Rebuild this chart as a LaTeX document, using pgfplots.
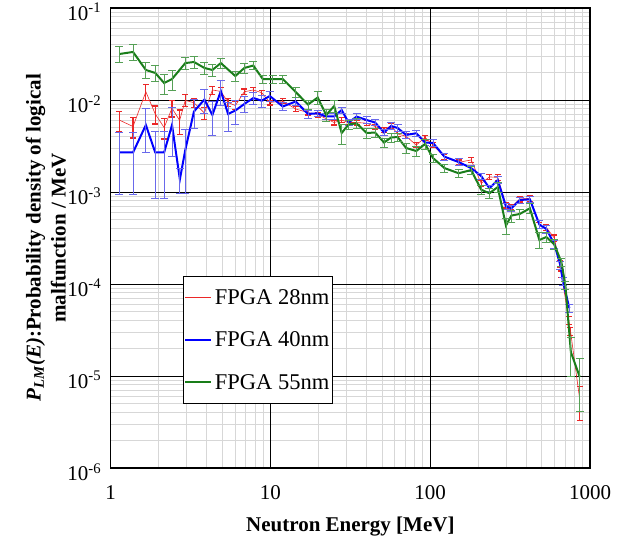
\documentclass[border=0pt]{standalone}
\usepackage{fontspec}
\setmainfont{Liberation Serif}
\usepackage{pgfplots}
\usepackage{pgfplotstable}
\pgfplotsset{compat=1.18}
\definecolor{myred}{RGB}{235,40,40}
\definecolor{myblue}{RGB}{0,0,255}
\definecolor{mybluebar}{RGB}{105,105,235}
\definecolor{mygreen}{RGB}{25,125,25}
\definecolor{mygreenbar}{RGB}{85,160,85}
\definecolor{mygrid}{RGB}{215,215,215}

\pgfplotstableread{
E y r
1.13 6.06e-3 0.25
1.38 5.15e-3 0.25
1.66 1.23e-2 0.2
1.90 7.05e-3 0.22
2.16 5.02e-3 0.25
2.42 8.15e-3 0.2
2.70 6.0e-3 0.3
2.93 9.9e-3 0.15
3.32 9.35e-3 0.12
3.86 7.22e-3 0.15
4.33 1.285e-2 0.1
4.89 1.24e-2 0.1
5.43 9.4e-3 0.1
6.03 8.7e-3 0.1
6.86 1.23e-2 0.07
7.81 1.285e-2 0.07
8.82 1.2e-2 0.06
9.9 9.4e-3 0.06
11.94 9.75e-3 0.06
14.39 7.98e-3 0.06
17.18 7.31e-3 0.06
19.75 6.96e-3 0.06
22.33 6.26e-3 0.06
25.05 5.69e-3 0.06
27.9 6.06e-3 0.06
30.85 5.69e-3 0.06
34.6 5.69e-3 0.06
40.0 5.6e-3 0.06
45.2 5.15e-3 0.06
51.4 4.72e-3 0.06
56.9 5.28e-3 0.06
62.5 4.27e-3 0.06
70.6 4.04e-3 0.06
81.8 3.24e-3 0.06
92.8 3.91e-3 0.06
104.1 3.24e-3 0.06
122.8 2.4e-3 0.06
150.3 2.1e-3 0.06
180.4 2.23e-3 0.06
208.4 1.243e-3 0.07
234.8 1.46e-3 0.07
264.5 1.44e-3 0.07
297.8 7.22e-4 0.07
322.3 6.87e-4 0.07
363.1 8.39e-4 0.07
420.5 8.54e-4 0.07
482 4.32e-4 0.07
533 4.11e-4 0.07
598 3.16e-4 0.08
647 1.65e-4 0.08
662 1.285e-4 0.08
737 4.06e-5 0.1
755 3.08e-5 0.1
863 5.5e-6 0.4
}\redtab

\pgfplotstableread{
E y r
1.13 2.69e-3 0.65
1.38 2.69e-3 0.65
1.66 5.35e-3 0.5
1.90 2.69e-3 0.68
2.16 2.69e-3 0.68
2.42 5.35e-3 0.55
2.71 1.37e-3 0.3
2.93 2.86e-3 0.66
3.32 7.5e-3 0.35
3.86 1.012e-2 0.3
4.33 6.87e-3 0.4
4.89 1.25e-2 0.3
5.43 7.05e-3 0.35
6.03 7.69e-3 0.3
6.86 9.05e-3 0.2
7.81 1.051e-2 0.15
8.82 9.83e-3 0.15
9.9 1.105e-2 0.12
11.94 8.5e-3 0.1
14.39 9.63e-3 0.1
17.18 7.05e-3 0.1
19.75 7.17e-3 0.08
22.33 6.62e-3 0.08
25.05 6.62e-3 0.08
27.9 7.78e-3 0.08
30.85 5.69e-3 0.08
34.6 6.6e-3 0.08
40.0 6.06e-3 0.08
45.2 5.69e-3 0.08
51.4 4.43e-3 0.08
56.9 5.22e-3 0.08
62.5 4.96e-3 0.08
70.6 4.17e-3 0.08
81.8 4.35e-3 0.08
92.8 3.45e-3 0.08
104.1 3.41e-3 0.08
122.8 2.42e-3 0.08
150.3 2.12e-3 0.08
180.4 1.82e-3 0.08
208.4 1.49e-3 0.08
234.8 1.097e-3 0.08
264.5 1.35e-3 0.08
297.8 6.96e-4 0.08
322.3 6.65e-4 0.08
363.1 8.18e-4 0.08
420.5 8.33e-4 0.08
482 4.43e-4 0.1
533 3.96e-4 0.1
598 2.72e-4 0.1
652 1.61e-4 0.1
676 1.08e-4 0.1
742 5.48e-5 0.1
}\bluetab

\pgfplotstableread{
E y r
1.13 3.16e-2 0.2
1.38 3.33e-2 0.2
1.66 2.12e-2 0.2
1.90 1.97e-2 0.2
2.16 1.53e-2 0.25
2.42 1.69e-2 0.25
2.93 2.52e-2 0.15
3.32 2.59e-2 0.15
3.86 2.23e-2 0.15
4.33 2.12e-2 0.15
4.89 2.52e-2 0.12
6.03 1.82e-2 0.12
6.86 2.23e-2 0.12
7.81 2.37e-2 0.1
8.95 1.69e-2 0.1
10.33 1.69e-2 0.1
11.94 1.69e-2 0.1
14.39 1.22e-2 0.12
17.18 8.93e-3 0.12
19.75 1.064e-2 0.15
22.33 6.87e-3 0.15
25.05 8.6e-3 0.15
27.9 4.38e-3 0.25
30.85 5.42e-3 0.12
34.6 5.58e-3 0.12
40.0 4.38e-3 0.12
45.2 4.43e-3 0.12
51.4 3.45e-3 0.12
56.9 3.91e-3 0.12
62.5 3.96e-3 0.1
70.6 3.01e-3 0.12
81.8 2.79e-3 0.12
92.8 3.33e-3 0.12
104.1 2.34e-3 0.1
122.8 1.82e-3 0.1
150.3 1.6e-3 0.1
180.4 1.73e-3 0.1
208.4 1.06e-3 0.12
234.8 9.68e-4 0.12
264.5 1.133e-3 0.12
297.8 4.32e-4 0.2
322.3 5.55e-4 0.15
363.1 5.77e-4 0.12
420.5 6.65e-4 0.12
482 3.01e-4 0.2
533 3.24e-4 0.12
598 2.69e-4 0.12
662 1.73e-4 0.1
701 9.75e-5 0.1
759 1.82e-5 0.45
863 9.75e-6 0.58
}\greentab

\begin{document}
\begin{tikzpicture}
\begin{axis}[
  scale only axis, width=479.3pt, height=460pt,
  xmode=log, ymode=log,
  xmin=1, xmax=1000, ymin=1e-6, ymax=1e-1,
  xtick={1,10,100,1000}, xticklabels={1,10,100,1000},
  ytick={1e-6,1e-5,1e-4,1e-3,1e-2,1e-1},
  yticklabels={10\textsuperscript{-6},10\textsuperscript{-5},10\textsuperscript{-4},10\textsuperscript{-3},10\textsuperscript{-2},10\textsuperscript{-1}},
  minor xtick={2,3,4,5,6,7,8,9,20,30,40,50,60,70,80,90,200,300,400,500,600,700,800,900},
  minor ytick={2e-6,3e-6,4e-6,5e-6,6e-6,7e-6,8e-6,9e-6,2e-5,3e-5,4e-5,5e-5,6e-5,7e-5,8e-5,9e-5,2e-4,3e-4,4e-4,5e-4,6e-4,7e-4,8e-4,9e-4,2e-3,3e-3,4e-3,5e-3,6e-3,7e-3,8e-3,9e-3,2e-2,3e-2,4e-2,5e-2,6e-2,7e-2,8e-2,9e-2},
  xminorgrids=true, yminorgrids=true, xmajorgrids=false, ymajorgrids=false,
  minor grid style={mygrid, line width=0.9pt},
  extra x ticks={10,100}, extra x tick labels={},
  extra y ticks={1e-5,1e-4,1e-3,1e-2}, extra y tick labels={},
  extra tick style={grid=major, major grid style={black, line width=0.9pt}},
  major tick length=0pt, minor tick length=0pt,
  axis line style={line width=1.6pt},
  tick label style={font=\fontsize{21}{25}\selectfont},
  xticklabel style={yshift=-14pt},
  yticklabel style={xshift=-6pt, yshift=-4pt},
  xlabel={\textbf{Neutron Energy [MeV]}},
  ylabel={\textbf{\textit{P}\textsubscript{\textit{LM}}\textit{(E)}:Probability density of logical}\\\textbf{malfunction / MeV}},
  label style={font=\fontsize{21}{25}\selectfont\bfseries},
  xlabel style={at={(axis description cs:0.5,-0.128)}, anchor=center},
  ylabel style={align=center, at={(axis description cs:-0.135,0.5)}, anchor=center},
  legend style={at={(0.151,0.4175)}, anchor=north west, draw=black, line width=0.8pt,
    font=\fontsize{22.5}{27}\selectfont, row sep=22pt, inner xsep=1pt, inner ysep=11pt,
    nodes={inner xsep=2.5pt}, cells={anchor=west}},
  legend image code/.code={\draw[#1] (0pt,0pt) -- (26pt,0pt);},
]
\addplot[myred, line width=0.6pt, mark=none,
  error bars/.cd, y dir=both, y explicit relative,
  error bar style={myred, line width=1.2pt},
  error mark options={rotate=90, myred, line width=1.2pt, mark size=3pt}]
  table[x=E, y=y, y error=r]{\redtab};
\addplot[myblue, line width=2pt, mark=none,
  error bars/.cd, y dir=both, y explicit relative,
  error bar style={mybluebar, line width=0.9pt},
  error mark options={rotate=90, mybluebar, line width=0.9pt, mark size=4pt}]
  table[x=E, y=y, y error=r]{\bluetab};
\addplot[mygreen, line width=2pt, mark=none,
  error bars/.cd, y dir=both, y explicit relative,
  error bar style={mygreenbar, line width=0.9pt},
  error mark options={rotate=90, mygreenbar, line width=0.9pt, mark size=4pt}]
  table[x=E, y=y, y error=r]{\greentab};
\legend{FPGA 28nm, FPGA 40nm, FPGA 55nm}
\end{axis}
\pgfresetboundingbox
\path[use as bounding box] (-110.7pt,-75pt) rectangle (512.3pt,468pt);
\end{tikzpicture}
\end{document}
